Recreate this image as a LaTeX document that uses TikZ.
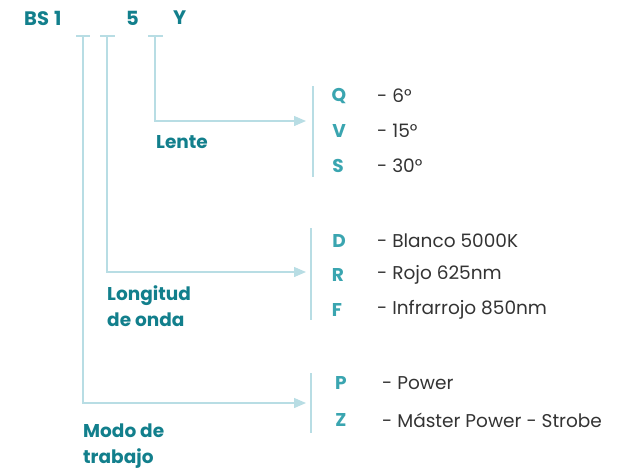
\documentclass[tikz,border=0pt]{standalone}
\usepackage{fontspec}
\setmainfont{Poppins}
\usetikzlibrary{arrows.meta}
\definecolor{dark}{HTML}{127F8C}
\definecolor{mid}{HTML}{3AA5B0}
\definecolor{linec}{HTML}{B8DDE4}
\definecolor{txt}{HTML}{333333}
\begin{document}
\begin{tikzpicture}[x=1pt,y=-1pt,
  head/.style={font=\fontsize{19.5}{22}\selectfont\bfseries, text=dark, inner sep=0pt, anchor=west},
  lab/.style={font=\fontsize{18.5}{26}\selectfont\bfseries, text=dark, inner sep=0pt, anchor=west, align=left},
  code/.style={font=\fontsize{18.5}{20}\selectfont\bfseries, text=mid, inner sep=0pt},
  desc/.style={font=\fontsize{18.5}{20}\selectfont, text=txt, inner sep=0pt, anchor=west},
  ln/.style={draw=linec, line width=1.3pt},
  arr/.style={ln, -{Triangle[length=12pt,width=10pt]}}]
\useasboundingbox (0,0) rectangle (628,475);
% header
\node[head] (bs) at (24,18) {BS\hspace{5pt}1};
\node[head] (c5) at (126,18) {5};
\node[head] (cy) at (173,18) {Y};
% T marks
\coordinate (t1) at (83,36);
\coordinate (t2) at (107,36);
\coordinate (t3) at (155,36);
\draw[ln] (76,36) -- (90,36);
\draw[ln] (100,36) -- (115,36);
\draw[ln] (148,36) -- (163,36);
% corners
\coordinate (k3) at (155,121);
\coordinate (k2) at (107,272);
\coordinate (k1) at (83,403);
\coordinate (e3) at (306,121);
\coordinate (e2) at (306,272);
\coordinate (e1) at (306,403);
\draw[arr] (t3) -- (k3) -- (e3);
\draw[arr] (t2) -- (k2) -- (e2);
\draw[arr] (t1) -- (k1) -- (e1);
% bars
\draw[ln] (313,86) -- (313,177);
\draw[ln] (311,228) -- (311,320);
\draw[ln] (311,373) -- (311,433);
% labels
\node[lab] (lente) at (156,142) {Lente};
\node[lab] (longitud) at (107,306) {Longitud\\de onda};
\node[lab] (modo) at (83,446) {Modo de\\trabajo};
% codes
\node[code] (q) at (339,96) {Q};
\node[code] (v) at (339,131) {V};
\node[code] (s) at (338,166) {S};
\node[desc] (dq) at (377,96) {- 6°};
\node[desc] (dv) at (377,131) {- 15°};
\node[desc] (ds) at (377,166) {- 30°};
\node[code] (d) at (339,241) {D};
\node[code] (r) at (338,275) {R};
\node[code] (f) at (337,310) {F};
\node[desc] (dd) at (377,241) {- Blanco 5000K};
\node[desc] (dr) at (377,275) {- Rojo 625nm};
\node[desc] (df) at (377,310) {- Infrarrojo 850nm};
\node[code] (p) at (341,383) {P};
\node[code] (z) at (341,420) {Z};
\node[desc] (dp) at (382,383) {- Power};
\node[desc] (dz) at (382,420) {- Máster Power - Strobe};
\end{tikzpicture}
\end{document}
